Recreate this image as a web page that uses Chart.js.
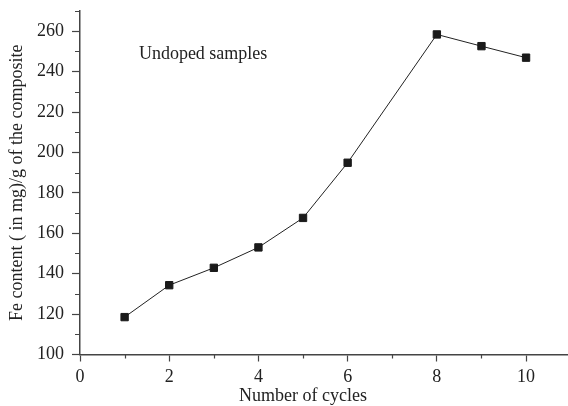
<!DOCTYPE html>
<html>
<head>
<meta charset="utf-8">
<script src="https://cdn.jsdelivr.net/npm/chart.js@4/dist/chart.umd.min.js"></script>
<style>
html,body{margin:0;padding:0;background:#fff;}
#wrap{width:568px;height:406px;position:relative;}
</style>
</head>
<body>
<div id="wrap"><canvas id="c" width="568" height="406"></canvas></div>
<script>
const cycles = [1, 2, 3, 4, 5, 6, 8, 9, 10];
const feContent = [118.5, 134.3, 142.9, 153.0, 167.6, 194.9, 258.4, 252.6, 246.9];
const xMajorTicks = [0, 2, 4, 6, 8, 10];
const xMinorTicks = [1, 3, 5, 7, 9];
const yMajorTicks = [100, 120, 140, 160, 180, 200, 220, 240, 260];
const yMinorTicks = [110, 130, 150, 170, 190, 210, 230, 250, 270];
const annotationText = 'Undoped samples';
const xTitle = 'Number of cycles';
const yTitle = 'Fe content ( in mg)/g of the composite';

const ink = '#222';
const axisCol = '#444';
const fontFamily = '"Liberation Serif", "Times New Roman", serif';
const font = {family: fontFamily, size: 18};

const extrasPlugin = {
  id: 'extras',
  afterDraw(chart) {
    const ctx = chart.ctx;
    const xs = chart.scales.x, ys = chart.scales.y;
    ctx.save();
    ctx.strokeStyle = axisCol;
    ctx.lineWidth = 1.2;
    ctx.beginPath();
    xMinorTicks.forEach(v => {
      const px = Math.round(xs.getPixelForValue(v)) + 0.5;
      ctx.moveTo(px, ys.bottom);
      ctx.lineTo(px, ys.bottom + 4);
    });
    yMinorTicks.forEach(v => {
      const py = Math.round(ys.getPixelForValue(v)) + 0.5;
      ctx.moveTo(xs.left, py);
      ctx.lineTo(xs.left - 5, py);
    });
    ctx.stroke();
    ctx.fillStyle = ink;
    ctx.font = '18px ' + fontFamily;
    ctx.textBaseline = 'middle';
    ctx.textAlign = 'left';
    ctx.fillText(annotationText, xs.getPixelForValue(1.32), ys.getPixelForValue(248.5));
    // x title centred on the labelled tick range
    ctx.textAlign = 'center';
    const xc = (xs.getPixelForValue(xMajorTicks[0]) + xs.getPixelForValue(xMajorTicks[xMajorTicks.length - 1])) / 2;
    ctx.fillText(xTitle, xc, 396);
    ctx.restore();
  }
};

new Chart(document.getElementById('c'), {
  type: 'line',
  data: {
    datasets: [{
      data: cycles.map((c, i) => ({x: c, y: feContent[i]})),
      borderColor: ink,
      borderWidth: 1,
      pointStyle: 'rect',
      pointRadius: 5.2,
      pointBorderWidth: 1,
      pointBackgroundColor: '#1a1a1a',
      pointBorderColor: '#1a1a1a',
      tension: 0,
      fill: false,
      clip: false
    }]
  },
  options: {
    responsive: false,
    animation: false,
    events: [],
    layout: {autoPadding: false, padding: {top: 11, right: 0, left: 0, bottom: 0}},
    plugins: {legend: {display: false}, tooltip: {enabled: false}},
    scales: {
      x: {
        type: 'linear',
        min: 0,
        max: 10.94,
        afterBuildTicks: s => { s.ticks = xMajorTicks.map(v => ({value: v})); },
        afterFit: s => { s.height = 51.5; s.paddingRight = 0; s.paddingLeft = 0; },
        border: {display: true, color: axisCol, width: 1.5},
        grid: {drawOnChartArea: false, drawTicks: true, tickLength: 7, tickColor: axisCol, tickWidth: 1.2},
        ticks: {color: ink, font: font, padding: 5, maxRotation: 0, autoSkip: false},
        title: {display: false}
      },
      y: {
        type: 'linear',
        min: 100,
        max: 270,
        afterBuildTicks: s => { s.ticks = yMajorTicks.map(v => ({value: v})); },
        afterFit: s => { s.width = 80; s.paddingTop = 0; s.paddingBottom = 0; },
        border: {display: true, color: axisCol, width: 1.5},
        grid: {drawOnChartArea: false, drawTicks: true, tickLength: 8, tickColor: axisCol, tickWidth: 1.2},
        ticks: {color: ink, font: font, padding: 8, autoSkip: false},
        title: {display: true, text: yTitle, color: ink, font: font, padding: {top: 6, bottom: 0}}
      }
    }
  },
  plugins: [extrasPlugin]
});
</script>
</body>
</html>
